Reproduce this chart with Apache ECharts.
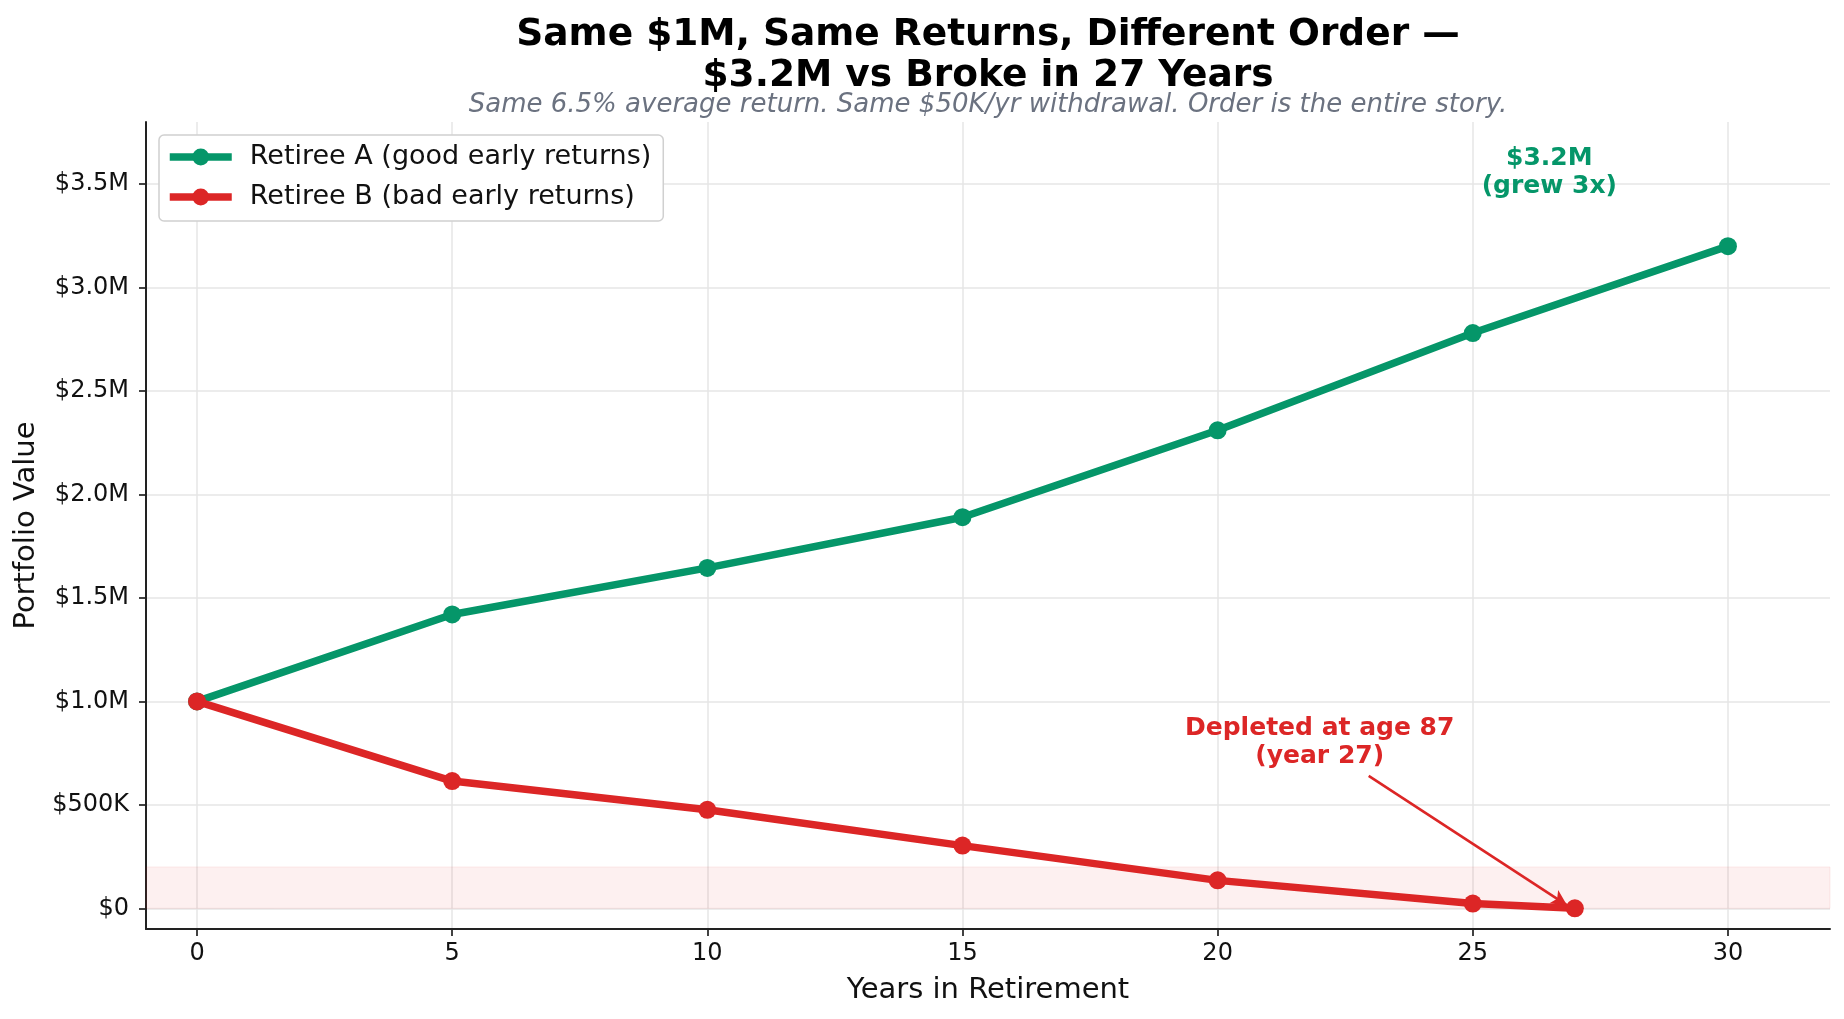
<!DOCTYPE html>
<html>
<head>
<meta charset="utf-8">
<script src="https://cdn.jsdelivr.net/npm/echarts@6/dist/echarts.min.js"></script>
<style>
html, body { margin: 0; padding: 0; background: #fff; }
#main { width: 1844px; height: 1019px; }
</style>
</head>
<body>
<div id="main"></div>
<script>
// data
var yearsA = [0, 5, 10, 15, 20, 25, 30];
var valuesA = [1000000, 1420000, 1645000, 1890000, 2310000, 2780000, 3200000];
var yearsB = [0, 5, 10, 15, 20, 25, 27];
var valuesB = [1000000, 615000, 476000, 303000, 135000, 23000, 0];

var xTicks = [0, 5, 10, 15, 20, 25, 30];
var yTicks = [0, 500000, 1000000, 1500000, 2000000, 2500000, 3000000, 3500000];
var yTickLabels = ['$0', '$500K', '$1.0M', '$1.5M', '$2.0M', '$2.5M', '$3.0M', '$3.5M'];

// danger band and annotations (data units)
var dangerBand = [0, 200000];
var labelA = [26.5, 3555000];
var labelB = [22, 800000];
var arrowFrom = [22.96, 640000];
var arrowTo = [26.85, 14000];

var GREEN = '#059669';
var RED = '#dc2626';
var FONT = 'DejaVu Sans';

function pairs(xs, ys) {
    return xs.map(function (x, i) { return [x, ys[i]]; });
}

var chart = echarts.init(document.getElementById('main'));

var option = {
    animation: false,
    backgroundColor: '#fff',
    textStyle: { fontFamily: FONT },
    title: [{
        text: 'Same $1M, Same Returns, Different Order \u2014\n$3.2M vs Broke in 27 Years',
        left: 988, top: 15, textAlign: 'center', padding: 0,
        textStyle: { fontFamily: FONT, fontSize: 37.5, fontWeight: 'bold', lineHeight: 41, color: '#000' }
    }, {
        text: 'Same 6.5% average return. Same $50K/yr withdrawal. Order is the entire story.',
        left: 988, top: 91, textAlign: 'center', padding: 0,
        textStyle: { fontFamily: FONT, fontSize: 26, fontStyle: 'italic', fontWeight: 'normal', lineHeight: 28, color: '#6b7280' }
    }],
    legend: {
        orient: 'vertical',
        left: 159, top: 135,
        padding: [8, 12, 10, 7],
        itemWidth: 62, itemHeight: 21, itemGap: 12,
        backgroundColor: '#fff',
        borderColor: '#d0d0d0', borderWidth: 1.5, borderRadius: 5,
        lineStyle: { width: 7.5 },
        textStyle: { fontFamily: FONT, fontSize: 27, lineHeight: 28, color: '#111', padding: [0, 0, 0, 13] },
        data: ['Retiree A (good early returns)', 'Retiree B (bad early returns)']
    },
    grid: { left: 146, right: 14, top: 122, bottom: 90 },
    xAxis: {
        type: 'value', min: -1, max: 32,
        name: 'Years in Retirement', nameLocation: 'middle', nameGap: 47,
        nameTextStyle: { fontFamily: FONT, fontSize: 29, color: '#111' },
        axisLine: { onZero: false, lineStyle: { color: '#222', width: 2 } },
        axisTick: { customValues: xTicks, length: 7, lineStyle: { color: '#222', width: 1.7 } },
        axisLabel: { customValues: xTicks, margin: 13, fontFamily: FONT, fontSize: 24, color: '#111' },
        splitLine: { show: true, lineStyle: { color: '#e6e6e6', width: 1.5 } }
    },
    yAxis: {
        type: 'value', min: -100000, max: 3800000,
        name: 'Portfolio Value', nameLocation: 'middle', nameGap: 104,
        nameTextStyle: { fontFamily: FONT, fontSize: 29, color: '#111' },
        axisLine: { show: true, onZero: false, lineStyle: { color: '#222', width: 2 } },
        axisTick: { show: true, customValues: yTicks, length: 7, lineStyle: { color: '#222', width: 1.7 } },
        axisLabel: {
            customValues: yTicks, margin: 17, fontFamily: FONT, fontSize: 24, color: '#111',
            formatter: function (v) {
                var i = yTicks.indexOf(v);
                return i >= 0 ? yTickLabels[i] : '';
            }
        },
        splitLine: { show: true, lineStyle: { color: '#e6e6e6', width: 1.5 } }
    },
    series: [{
        name: 'Retiree A (good early returns)',
        type: 'line',
        data: pairs(yearsA, valuesA),
        symbol: 'circle', symbolSize: 18,
        lineStyle: { color: GREEN, width: 7.5 },
        itemStyle: { color: GREEN },
        z: 3,
        markPoint: {
            silent: true,
            symbol: 'circle', symbolSize: 1,
            itemStyle: { color: 'rgba(0,0,0,0)' },
            data: [{
                coord: labelA,
                label: {
                    show: true, position: 'inside',
                    formatter: '$3.2M\n(grew 3x)',
                    fontFamily: FONT, fontSize: 25, fontWeight: 'bold', lineHeight: 28, color: GREEN, align: 'center'
                }
            }]
        }
    }, {
        name: 'Retiree B (bad early returns)',
        type: 'line',
        data: pairs(yearsB, valuesB),
        symbol: 'circle', symbolSize: 18,
        lineStyle: { color: RED, width: 7.5 },
        itemStyle: { color: RED },
        z: 4,
        markArea: {
            silent: true,
            itemStyle: { color: 'rgba(220,38,38,0.07)', borderColor: 'rgba(220,38,38,0.08)', borderWidth: 1 },
            data: [[{ yAxis: dangerBand[0] }, { yAxis: dangerBand[1] }]]
        },
        markLine: {
            silent: true,
            symbol: ['none', 'arrow'], symbolSize: [12, 16],
            lineStyle: { color: RED, width: 2.6, type: 'solid' },
            label: { show: false },
            data: [[{ coord: arrowFrom }, { coord: arrowTo }]]
        },
        markPoint: {
            silent: true,
            symbol: 'circle', symbolSize: 1,
            itemStyle: { color: 'rgba(0,0,0,0)' },
            data: [{
                coord: labelB,
                label: {
                    show: true, position: 'inside',
                    formatter: 'Depleted at age 87\n(year 27)',
                    fontFamily: FONT, fontSize: 25, fontWeight: 'bold', lineHeight: 28, color: RED, align: 'center'
                }
            }]
        }
    }]
};

chart.setOption(option);
</script>
</body>
</html>
